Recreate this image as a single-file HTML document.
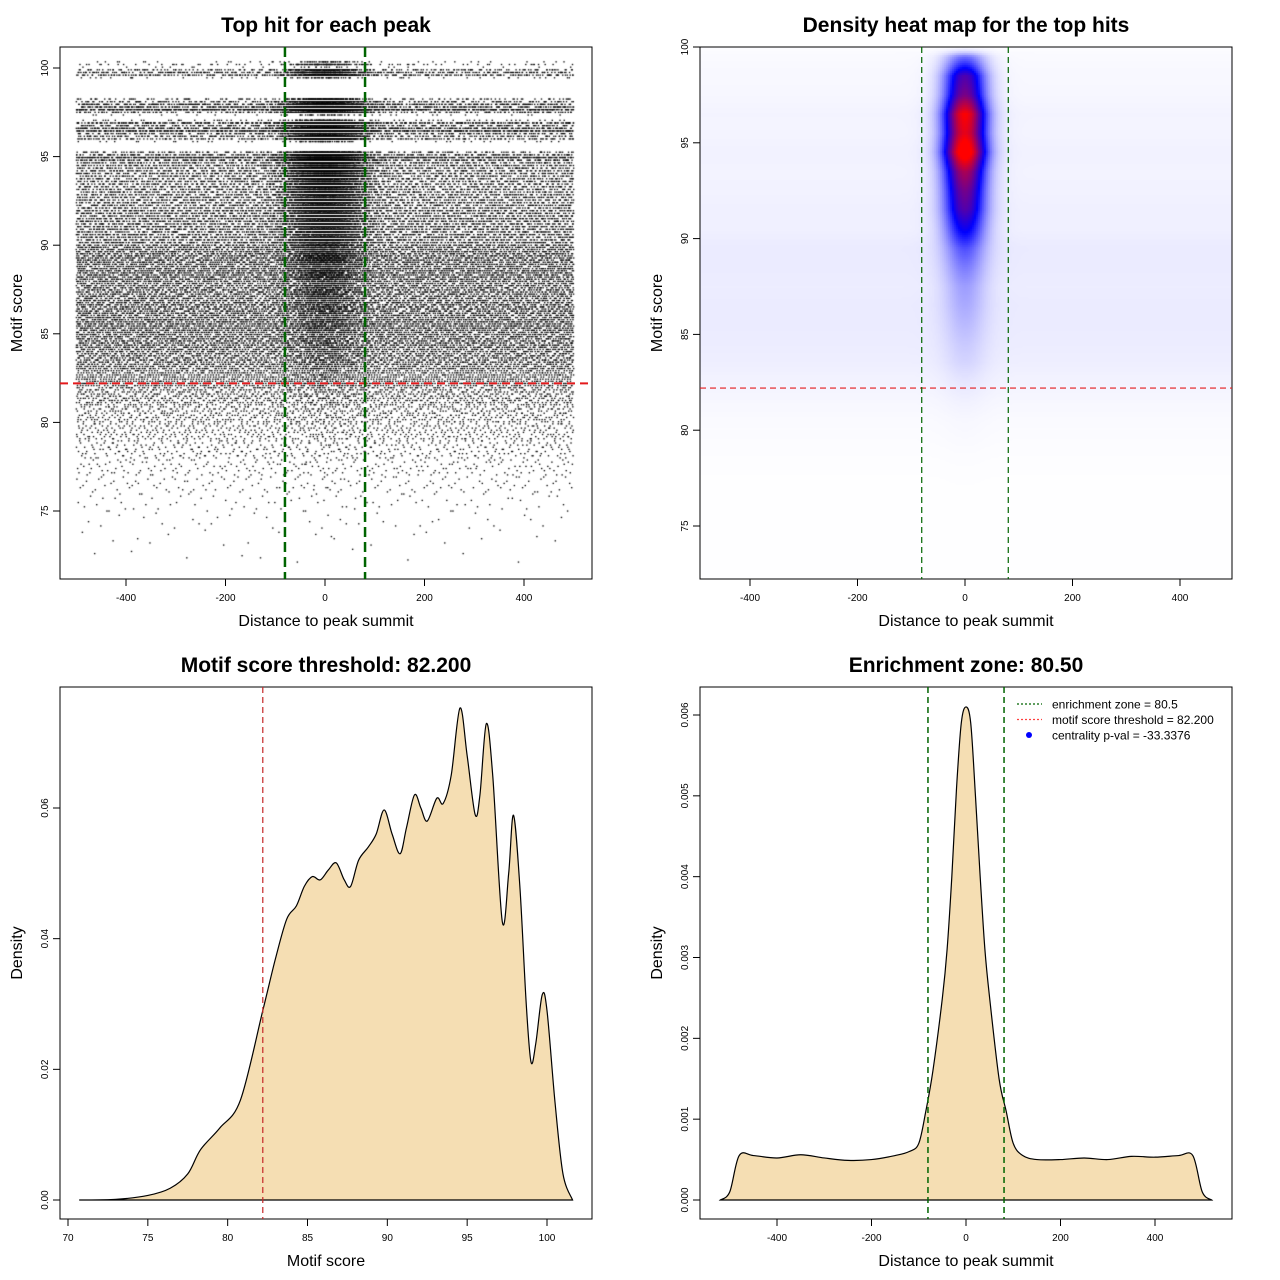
<!DOCTYPE html>
<html><head><meta charset="utf-8">
<style>
html,body{margin:0;padding:0;background:#fff;}
#wrap{position:relative;width:1280px;height:1280px;overflow:hidden;font-family:"Liberation Sans",Arial,sans-serif;}
canvas{position:absolute;}
svg{position:absolute;left:0;top:0;}
</style></head>
<body>
<div id="wrap">
<canvas id="scatter" width="532" height="532" style="left:60px;top:47px"></canvas>
<canvas id="heat" width="532" height="532" style="left:700px;top:47px"></canvas>
<svg id="svg" width="1280" height="1280"></svg>
</div>
<script>
// ---- data ----
const scoreBins=[72,73,74,75,76,77,78,79,80,81,82,83,84,85,86,87,88,89,90,91,92,93,94,95,96,97,98,99];
const binDensity=[0.0002,0.0004,0.0008,0.0015,0.003,0.005,0.008,0.012,0.016,0.023,0.032,0.041,0.046,0.049,0.051,0.049,0.054,0.058,0.055,0.060,0.059,0.061,0.072,0.063,0.066,0.050,0.045,0.028];
const centralFrac=[0.02,0.02,0.02,0.02,0.02,0.02,0.02,0.03,0.03,0.04,0.05,0.07,0.08,0.1,0.12,0.15,0.18,0.22,0.35,0.4,0.45,0.5,0.55,0.55,0.55,0.55,0.55,0.45];
const scoreBandLo=[72,95.9,97.4,99.5];
const scoreBandHi=[95.3,97.0,98.3,100];
const scoreDensX=[70.7,73,75,76.4,77.5,78.3,79.5,80.8,82.2,83,83.7,84.3,84.8,85.3,85.8,86.3,86.8,87.3,87.7,88.2,88.8,89.3,89.8,90.3,90.8,91.2,91.7,92.1,92.5,93.1,93.5,94.0,94.55,95.0,95.5,95.8,96.2,96.6,97.2,97.6,97.9,98.3,98.7,99.0,99.3,99.7,100.0,100.5,101.0,101.6];
const scoreDensY=[0,0.0001,0.0007,0.0018,0.004,0.0077,0.011,0.0153,0.029,0.037,0.043,0.045,0.048,0.0495,0.049,0.0505,0.0516,0.049,0.048,0.052,0.054,0.056,0.0597,0.056,0.053,0.057,0.062,0.060,0.058,0.0615,0.0607,0.065,0.0753,0.068,0.059,0.062,0.0729,0.065,0.0426,0.050,0.0589,0.048,0.030,0.0211,0.024,0.0314,0.029,0.015,0.004,0];
const distX=[-520,-500,-480,-450,-400,-350,-300,-250,-200,-150,-120,-100,-85,-70,-50,-40,-30,-20,-10,0,10,20,30,40,50,70,85,100,120,150,200,250,300,350,400,450,480,500,520];
const distY=[0,0.0001,0.00055,0.00055,0.00052,0.00056,0.00052,0.00049,0.0005,0.00055,0.0006,0.0007,0.0011,0.0016,0.0025,0.0031,0.004,0.0051,0.0059,0.0061,0.0059,0.005,0.004,0.0031,0.0025,0.0015,0.0011,0.0007,0.00055,0.0005,0.0005,0.00052,0.0005,0.00054,0.00053,0.00055,0.00055,0.0001,0];
const thresholdScore=82.2;
const enrichZone=80.5;
const centerSd=30;
const totalPoints=50000;
const tick1X=[-400,-200,0,200,400];
const tick1Y=[75,80,85,90,95,100];
const tick3X=[70,75,80,85,90,95,100];
const tick3Y=[0,0.02,0.04,0.06];
const tick3YLab=["0.00","0.02","0.04","0.06"];
const tick4Y=[0,0.001,0.002,0.003,0.004,0.005,0.006];
const tick4YLab=["0.000","0.001","0.002","0.003","0.004","0.005","0.006"];

// ---- helpers ----
const NS="http://www.w3.org/2000/svg";
const svg=document.getElementById('svg');
function el(tag,attrs,parent,text){const e=document.createElementNS(NS,tag);for(const k in attrs)e.setAttribute(k,attrs[k]);if(text!==undefined)e.textContent=text;(parent||svg).appendChild(e);return e;}
function lin(d0,d1,r0,r1){return v=>r0+(v-d0)/(d1-d0)*(r1-r0);}
function halton(i,b){let f=1,r=0;i=i+1;while(i>0){f/=b;r+=f*(i%b);i=Math.floor(i/b);}return r;}
function invnorm(p){p=Math.min(Math.max(p,1e-6),1-1e-6);const q=p<0.5?p:1-p;const t=Math.sqrt(-2*Math.log(q));const z=t-(2.515517+0.802853*t+0.010328*t*t)/(1+1.432788*t+0.189269*t*t+0.001308*t*t*t);return p<0.5?-z:z;}

function panel(name,box,xs,ys,xt,xtl,yt,ytl,title,xlab,ylab){
  const g=el('g',{});
  el('rect',{x:box.x,y:box.y,width:box.w,height:box.h,fill:'none',stroke:'#000','stroke-width':1,},g);
  const ax=el('g',{},g);
  const yb=box.y+box.h;
  el('line',{x1:xs(xt[0]),x2:xs(xt[xt.length-1]),y1:yb,y2:yb,stroke:'#000'},ax);
  xt.forEach((v,i)=>{const x=xs(v);el('line',{x1:x,x2:x,y1:yb,y2:yb+7,stroke:'#000'},ax);
    el('text',{x:x,y:yb+22,'font-size':10,'text-anchor':'middle',},ax,xtl[i]);});
  const ay=el('g',{},g);
  el('line',{x1:box.x,x2:box.x,y1:ys(yt[0]),y2:ys(yt[yt.length-1]),stroke:'#000'},ay);
  yt.forEach((v,i)=>{const y=ys(v);el('line',{x1:box.x-7,x2:box.x,y1:y,y2:y,stroke:'#000'},ay);
    el('text',{x:0,y:0,transform:`translate(${box.x-12},${y}) rotate(-90)`,'font-size':10,'text-anchor':'middle',},ay,ytl[i]);});
  el('text',{x:box.x+box.w/2,y:box.y-15,'font-size':21,'font-weight':'bold','text-anchor':'middle',},g,title);
  el('text',{x:box.x+box.w/2,y:yb+47,'font-size':16,'text-anchor':'middle',},g,xlab);
  el('text',{x:0,y:0,transform:`translate(${box.x-38},${box.y+box.h/2}) rotate(-90)`,'font-size':16,'text-anchor':'middle',},g,ylab);
  return g;
}
function smoothPath(pts){let d=`M${pts[0][0]},${pts[0][1]}`;for(let i=0;i<pts.length-1;i++){const p0=pts[Math.max(i-1,0)],p1=pts[i],p2=pts[i+1],p3=pts[Math.min(i+2,pts.length-1)];
  const c1=[p1[0]+(p2[0]-p0[0])/6,p1[1]+(p2[1]-p0[1])/6],c2=[p2[0]-(p3[0]-p1[0])/6,p2[1]-(p3[1]-p1[1])/6];
  d+=`C${c1[0]},${c1[1]} ${c2[0]},${c2[1]} ${p2[0]},${p2[1]}`;}return d;}

// ---- panel 1: scatter ----
const b1={x:60,y:47,w:532,h:532};
const x1=lin(-400,400,126,524), y1=lin(75,100,511,68);
panel('scatter-panel',b1,x1,y1,tick1X,tick1X.map(String),tick1Y,tick1Y.map(String),'Top hit for each peak','Distance to peak summit','Motif score');
(function(){const c=document.getElementById('scatter').getContext('2d');c.fillStyle='#000';let idx=0;
  scoreBins.forEach((lo,i)=>{const n=Math.round(binDensity[i]*totalPoints);
    for(let k=0;k<n;k++){const h1=halton(idx,2),h2=halton(idx,3),h3=halton(idx,5);idx++;
      let s=lo+h1;
      let inBand=false,best=0,bd=1e9;
      for(let j=0;j<scoreBandLo.length;j++){if(s>=scoreBandLo[j]&&s<=scoreBandHi[j])inBand=true;const dd=Math.min(Math.abs(s-scoreBandLo[j]),Math.abs(s-scoreBandHi[j]));if(dd<bd){bd=dd;best=j;}}
      if(!inBand){const lo2=scoreBandLo[best];s=(s>scoreBandHi[best])?scoreBandHi[best]-h1*0.8:lo2+h1*0.8; if(best===0) s=scoreBandHi[0]-h1*0.8;}
      if(s>=90) s=Math.round(s/0.15)*0.15; else s=Math.round(s/0.12)*0.12;
      let x; if(h3<centralFrac[i]) x=Math.max(-500,Math.min(500,centerSd*1.3*invnorm(h2))); else x=-500+1000*h2;
      c.fillRect(x1(x)-60-0.7,y1(s)-47-0.6,1.4,1.3);}});
})();
el('line',{x1:b1.x,x2:b1.x+b1.w,y1:y1(thresholdScore),y2:y1(thresholdScore),stroke:'#e41a1c','stroke-width':2,'stroke-dasharray':'8,5',});
[-enrichZone,enrichZone].forEach(v=>el('line',{x1:x1(v),x2:x1(v),y1:b1.y,y2:b1.y+b1.h,stroke:'#006400','stroke-width':2.5,'stroke-dasharray':'10,5',}));

// ---- panel 2: heatmap ----
const b2={x:700,y:47,w:532,h:532};
const x2=lin(-400,400,750,1180), y2=lin(75,100,526,47);
panel('heatmap-panel',b2,x2,y2,tick1X,tick1X.map(String),tick1Y,tick1Y.map(String),'Density heat map for the top hits','Distance to peak summit','Motif score');
(function(){const c=document.getElementById('heat').getContext('2d');
  function interp(arr,s){const t=s-72.5;if(t<=0)return arr[0]*Math.max(0,1+t);const i=Math.floor(t);if(i>=arr.length-1){const e=arr[arr.length-1];return e*Math.max(0,1-(t-(arr.length-1))*1.5);}const f=t-i;return arr[i]*(1-f)+arr[i+1]*f;}
  function dens(x,s){const bd=interp(binDensity,s),cf=interp(centralFrac,s);
    return bd*((1-cf)/1000+cf*Math.exp(-x*x/(2*centerSd*centerSd))/(centerSd*2.5066));}
  const cell=2;let mx=0;const vals=[];
  for(let py=0;py<532;py+=cell){for(let px=0;px<532;px+=cell){const x=(700+px+1-965)/0.5375;const s=100-(47+py+1-47)/19.16;const d=dens(x,s);vals.push(d);if(d>mx)mx=d;}}
  let k=0;for(let py=0;py<532;py+=cell){for(let px=0;px<532;px+=cell){const t=vals[k++]/mx;let r,g,b;
    if(t<0.5){const u=Math.pow(t/0.5,1.4);r=255*(1-u);g=255*(1-u);b=255;}else{const u=Math.min(1,(t-0.5)/0.42);r=255*u;g=0;b=255*(1-u);}
    c.fillStyle=`rgb(${r|0},${g|0},${b|0})`;c.fillRect(px,py,cell,cell);}}
})();
el('line',{x1:b2.x,x2:b2.x+b2.w,y1:y2(thresholdScore),y2:y2(thresholdScore),stroke:'#e41a1c','stroke-width':1.2,'stroke-dasharray':'6,4',});
[-enrichZone,enrichZone].forEach(v=>el('line',{x1:x2(v),x2:x2(v),y1:b2.y,y2:b2.y+b2.h,stroke:'#006400','stroke-width':1.2,'stroke-dasharray':'6,4',}));

// ---- panel 3: score density ----
const b3={x:60,y:687,w:532,h:532};
const x3=lin(70,100,68,547), y3=lin(0,0.06,1200,808);
panel('score-density-panel',b3,x3,y3,tick3X,tick3X.map(String),tick3Y,tick3YLab,'Motif score threshold: 82.200','Motif score','Density');
el('path',{d:smoothPath(scoreDensX.map((v,i)=>[x3(v),y3(scoreDensY[i])]))+'Z',fill:'#F5DEB3',stroke:'#000','stroke-width':1.2,});
el('line',{x1:x3(thresholdScore),x2:x3(thresholdScore),y1:b3.y,y2:b3.y+b3.h,stroke:'#c62828','stroke-width':1.2,'stroke-dasharray':'6,4',});

// ---- panel 4: distance density ----
const b4={x:700,y:687,w:532,h:532};
const x4=lin(-400,400,777,1155), y4=lin(0,0.006,1200,715);
panel('distance-density-panel',b4,x4,y4,tick1X,tick1X.map(String),tick4Y,tick4YLab,'Enrichment zone: 80.50','Distance to peak summit','Density');
el('path',{d:smoothPath(distX.map((v,i)=>[x4(v),y4(distY[i])]))+'Z',fill:'#F5DEB3',stroke:'#000','stroke-width':1.2,});
[-enrichZone,enrichZone].forEach(v=>el('line',{x1:x4(v),x2:x4(v),y1:b4.y,y2:b4.y+b4.h,stroke:'#006400','stroke-width':1.5,'stroke-dasharray':'6,4',}));
const lg=el('g',{});
const le=[['enrichment zone = 80.5','#006400','line'],['motif score threshold = 82.200','#ff4040','line'],['centrality p-val = -33.3376','#0000ff','dot']];
le.forEach((e,i)=>{const y=704+i*15.5;const it=el('g',{},lg);
  if(e[2]==='line')el('line',{x1:1017,x2:1042,y1:y,y2:y,stroke:e[1],'stroke-width':1.3,'stroke-dasharray':'2,2'},it);
  else el('circle',{cx:1029,cy:y,r:3,fill:e[1]},it);
  el('text',{x:1052,y:y+4.5,'font-size':12},it,e[0]);});
</script>
</body></html>
